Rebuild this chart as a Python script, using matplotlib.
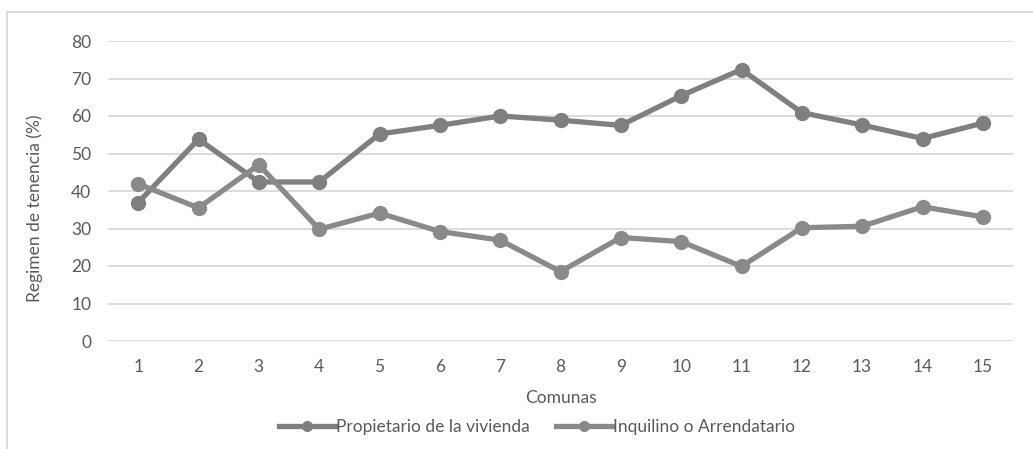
import matplotlib.pyplot as plt
from matplotlib.lines import Line2D
from matplotlib.patches import Rectangle

plt.rcParams['font.family'] = ['Lato', 'DejaVu Sans']

comunas = list(range(1, 16))
propietario = [36.9, 53.8, 42.4, 42.4, 55.2, 57.5, 60.0, 58.9, 57.5, 65.4, 72.4, 60.9, 57.6, 54.0, 58.1]
inquilino = [41.9, 35.5, 47.0, 29.8, 34.1, 29.2, 26.9, 18.5, 27.6, 26.5, 19.9, 30.2, 30.6, 35.8, 33.1]
series_names = ['Propietario de la vivienda', 'Inquilino o Arrendatario']

text_c = '#595959'
colors = ['#7f7f7f', '#8a8a8a']
fs = 12.5

fig = plt.figure(figsize=(10.33, 4.49), dpi=100)
ax = fig.add_axes([108 / 1033, 1 - 341 / 449, 905 / 1033, 300 / 449])

ax.plot(comunas, propietario, color=colors[0], lw=3.8, marker='o', ms=10, zorder=3)
ax.plot(comunas, inquilino, color=colors[1], lw=3.8, marker='o', ms=10, zorder=3)

ax.set_xlim(0.5, 15.5)
ax.set_ylim(0, 80)
ax.set_xticks(comunas)
ax.set_yticks(range(0, 81, 10))
ax.grid(axis='y', color='#d9d9d9', lw=1.3)
ax.set_axisbelow(True)
for s in ax.spines.values():
    s.set_visible(False)
ax.tick_params(length=0, labelsize=fs, colors=text_c)
ax.tick_params(axis='x', pad=13)
ax.tick_params(axis='y', pad=12)

ax.set_xlabel('Comunas', fontsize=fs, color=text_c, labelpad=11)
# y label sits a bit below the middle of the plot, as in the original
fig.text(35 / 1033, 1 - 208 / 449, 'Regimen de tenencia (%)', rotation=90,
         ha='center', va='center', fontsize=fs, color=text_c)

# legend handles with smaller markers, like the original
handles = [Line2D([], [], color=c, lw=3.8, marker='o', ms=7) for c in colors]
leg = fig.legend(handles, series_names, loc='center', bbox_to_anchor=(0.52, 1 - 427 / 449),
                 ncol=2, frameon=False, fontsize=fs, handlelength=3.2, handletextpad=0.1,
                 columnspacing=1.5)
for t in leg.get_texts():
    t.set_color(text_c)

fig.patches.append(Rectangle((7 / 1033, -0.1), 1.2, 1.1 - 12 / 449, transform=fig.transFigure,
                             fill=False, edgecolor='#d9d9d9', lw=1.3))

fig.savefig('out.png', dpi=100)
